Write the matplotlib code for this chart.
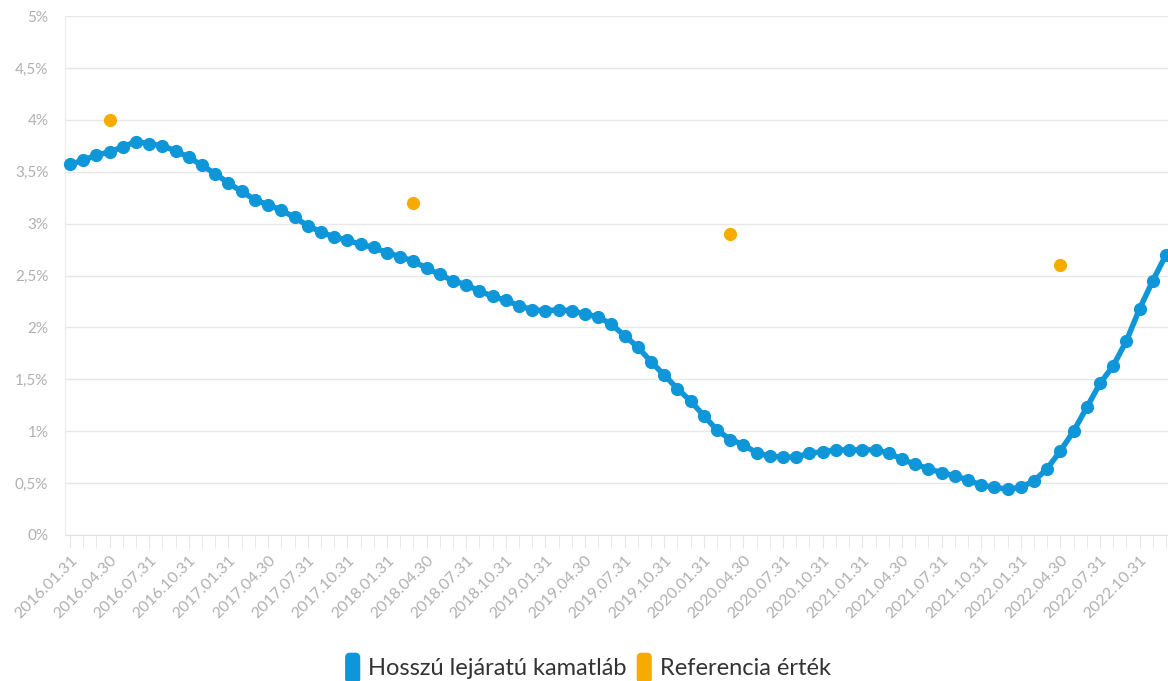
import matplotlib
matplotlib.use("Agg")
import matplotlib.pyplot as plt
import matplotlib.patches as mpatches
from matplotlib.legend_handler import HandlerPatch
from matplotlib.ticker import FuncFormatter, FixedLocator
import pandas as pd

# havi adatok, 2016.01.31 - 2022.12.31
honapok = pd.date_range("2016-01-31", periods=84, freq="ME")
honap_cimkek = [d.strftime("%Y.%m.%d") for d in honapok]

kamatlab = [
    3.57, 3.61, 3.66, 3.69, 3.74, 3.79, 3.77, 3.75, 3.70, 3.64,
    3.56, 3.48, 3.39, 3.31, 3.23, 3.18, 3.13, 3.06, 2.98, 2.92,
    2.87, 2.84, 2.80, 2.77, 2.72, 2.68, 2.64, 2.57, 2.51, 2.45,
    2.41, 2.35, 2.30, 2.26, 2.21, 2.17, 2.16, 2.17, 2.16, 2.13,
    2.10, 2.03, 1.92, 1.81, 1.67, 1.54, 1.41, 1.29, 1.15, 1.01,
    0.92, 0.87, 0.79, 0.76, 0.75, 0.75, 0.79, 0.80, 0.82, 0.82,
    0.82, 0.82, 0.79, 0.73, 0.68, 0.64, 0.60, 0.57, 0.53, 0.48,
    0.46, 0.44, 0.46, 0.52, 0.64, 0.81, 1.00, 1.23, 1.46, 1.63,
    1.87, 2.18, 2.45, 2.70,
]

referencia_honap = ["2016.04.30", "2018.03.31", "2020.03.31", "2022.04.30"]
referencia = [4.0, 3.2, 2.9, 2.6]

KEK = "#0f96d9"
NARANCS = "#f5ab00"
SZURKE = "#b0b0b0"

plt.rcParams["font.family"] = ["Lato", "DejaVu Sans"]

fig = plt.figure(figsize=(11.68, 6.81), dpi=100)
ax = fig.add_axes([65 / 1168, 146 / 681, 1 - 65 / 1168, 519 / 681])

x = list(range(len(honapok)))
ax.plot(x, kamatlab, color=KEK, lw=4, marker="o", ms=8.5, zorder=3,
        solid_capstyle="round", clip_on=False)

ref_x = [honap_cimkek.index(h) for h in referencia_honap]
ax.plot(ref_x, referencia, ls="none", marker="o", ms=9.5, color=NARANCS,
        markeredgewidth=0, zorder=4)

ax.set_ylim(0, 5)
ax.set_xlim(-0.38, 83.15)

ax.set_yticks([i * 0.5 for i in range(11)])
ax.yaxis.set_major_formatter(FuncFormatter(
    lambda v, p: (f"{v:g}".replace(".", ",")) + "%"))
ax.grid(axis="y", color="#e8e8e8", lw=1)
ax.set_axisbelow(True)

ax.xaxis.set_major_locator(FixedLocator(x[::3]))
ax.set_xticklabels(honap_cimkek[::3])
ax.xaxis.set_minor_locator(FixedLocator(x))

for s in ["top", "right"]:
    ax.spines[s].set_visible(False)
ax.spines["left"].set_color("#ececec")
ax.spines["bottom"].set_color("#e3e3e3")

ax.tick_params(axis="y", length=0, pad=12, labelsize=11, labelcolor=SZURKE)
ax.tick_params(axis="x", which="both", length=9, color="#e6e6e6",
               labelsize=11.5, labelcolor=SZURKE, pad=4)
for lbl in ax.get_xticklabels():
    lbl.set_rotation(45)
    lbl.set_ha("right")
    lbl.set_va("top")
    lbl.set_rotation_mode("anchor")


def kerek_negyzet(legend, orig_handle, xdescent, ydescent, width, height, fontsize):
    return mpatches.FancyBboxPatch((-xdescent + 1, -ydescent - 4), width - 2, height + 6,
                                   boxstyle="round,pad=0,rounding_size=3")


kezelok = [mpatches.Patch(color=KEK, label="Hosszú lejáratú kamatláb"),
           mpatches.Patch(color=NARANCS, label="Referencia érték")]
fig.legend(handles=kezelok, loc="lower center", bbox_to_anchor=(0.503, -0.028),
           ncol=2, frameon=False, fontsize=17, handlelength=0.7, handleheight=1.0,
           handletextpad=0.3, columnspacing=0.4, labelcolor="#333333",
           handler_map={mpatches.Patch: HandlerPatch(patch_func=kerek_negyzet)})

fig.savefig("out.png", dpi=100)
